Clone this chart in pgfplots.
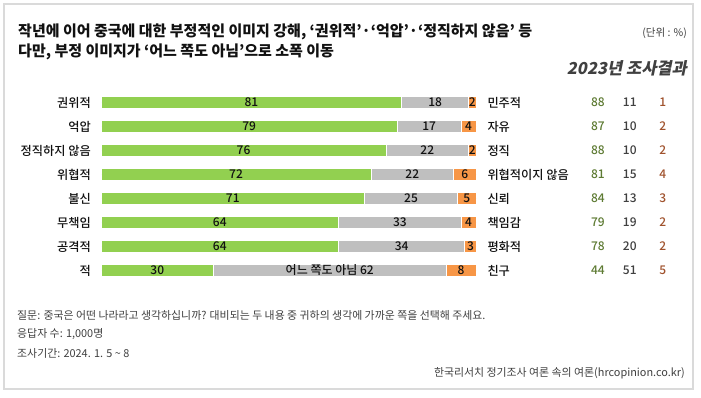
\documentclass[border=0pt]{standalone}
\usepackage{fontspec}
\setmainfont{Noto Sans CJK KR}
\newfontfamily\hdrfont[FakeSlant=0.2]{Noto Sans CJK KR}
\newfontfamily\medfont{Noto Sans CJK KR Medium}
\usepackage{pgfplots}
\pgfplotsset{compat=1.18}
\usepackage{pgfplotstable}

\definecolor{cgreen}{HTML}{92D050}
\definecolor{cgray}{HTML}{BFBFBF}
\definecolor{corange}{HTML}{F79646}
\definecolor{colive}{HTML}{5E7B33}
\definecolor{cdgray}{HTML}{404040}
\definecolor{cbrown}{HTML}{A0522D}
\definecolor{cframe}{HTML}{DADADA}
\definecolor{ctext}{HTML}{111111}

\pgfplotstableread[col sep=comma]{
row,a,b,c,lneg,lpos,p,n,u
0,81,18,2,권위적,민주적,88,11,1
1,79,17,4,억압,자유,87,10,2
2,76,22,2,정직하지 않음,정직,88,10,2
3,72,22,6,위협적,위협적이지 않음,81,15,4
4,71,25,5,불신,신뢰,84,13,3
5,64,33,4,무책임,책임감,79,19,2
6,64,34,3,공격적,평화적,78,20,2
7,30,62,8,적,친구,44,51,5
}\data

\newcommand{\labfont}{\medfont\fontsize{12.2}{14}\selectfont}
\newcommand{\numfont}{\medfont\fontsize{12}{14}\selectfont}
\newcommand{\notefont}{\fontsize{10.9}{13}\selectfont}

\pgfplotsset{
  base/.style={at={(101pt,-282.5pt)}, anchor=south west, scale only axis,
    width=375pt, height=192pt, xmin=0, xmax=100, ymin=-0.5, ymax=7.5,
    y dir=reverse, hide axis, clip=false},
  lab/.style={only marks, mark=*, mark size=0pt, mark options={draw=none,fill=none},
    point meta=explicit symbolic, nodes near coords={\pgfplotspointmeta}},
}

\begin{document}
\begin{tikzpicture}[x=1pt,y=1pt]
\useasboundingbox (0,0) rectangle (701,-397);
\fill[white] (0,0) rectangle (701,-397);
\draw[cframe, line width=2pt] (4,-4) rectangle (693,-389);

\node[anchor=west, inner sep=0pt, text=ctext, font=\bfseries\fontsize{15}{17}\selectfont] at (18,-31.5)
  {작년에 이어 중국에 대한 부정적인 이미지 강해, ‘권위적’·‘억압’·‘정직하지 않음’ 등};
\node[anchor=west, inner sep=0pt, text=ctext, font=\bfseries\fontsize{15}{17}\selectfont] at (18,-51.5)
  {다만, 부정 이미지가 ‘어느 쪽도 아님’으로 소폭 이동};
\node[anchor=east, inner sep=0pt, text=cdgray, font=\fontsize{10.5}{12}\selectfont] at (687,-33)
  {(단위 : \%)};
\node[anchor=east, inner sep=0pt, text=cdgray, font=\hdrfont\bfseries\fontsize{16.5}{18}\selectfont] at (687,-68)
  {2023년 조사결과};

\node[anchor=west, inner sep=0pt, text=cdgray, font=\notefont] at (17,-315)
  {질문: 중국은 어떤 나라라고 생각하십니까? 대비되는 두 내용 중 귀하의 생각에 가까운 쪽을 선택해 주세요.};
\node[anchor=west, inner sep=0pt, text=cdgray, font=\notefont] at (17,-334)
  {응답자 수: 1,000명};
\node[anchor=west, inner sep=0pt, text=cdgray, font=\notefont] at (17,-353)
  {조사기간: 2024. 1. 5 \textasciitilde{} 8};
\node[anchor=east, inner sep=0pt, text=cdgray, font=\notefont] at (685,-373)
  {한국리서치 정기조사 여론 속의 여론(hrcopinion.co.kr)};

\begin{axis}[base, xbar stacked, bar width=12pt]
\addplot[fill=cgreen, draw=white, line width=1pt] table[y=row, x expr={\thisrow{a}*100/(\thisrow{a}+\thisrow{b}+\thisrow{c})}] \data;
\addplot[fill=cgray, draw=white, line width=1pt] table[y=row, x expr={\thisrow{b}*100/(\thisrow{a}+\thisrow{b}+\thisrow{c})}] \data;
\addplot[fill=corange, draw=white, line width=1pt] table[y=row, x expr={\thisrow{c}*100/(\thisrow{a}+\thisrow{b}+\thisrow{c})}] \data;
\end{axis}

\begin{axis}[base]
% left labels
\addplot[lab, every node near coord/.append style={anchor=east, inner sep=0pt, xshift=-10pt, font=\labfont, text=ctext}]
  table[y=row, x expr=0, meta=lneg] \data;
% right labels
\addplot[lab, every node near coord/.append style={anchor=west, inner sep=0pt, xshift=11.3pt, font=\labfont, text=ctext}]
  table[y=row, x expr=100, meta=lpos] \data;
% green values
\addplot[lab, every node near coord/.append style={anchor=center, inner sep=0pt, font=\numfont, text=ctext}]
  table[y=row, x expr={\thisrow{a}*50/(\thisrow{a}+\thisrow{b}+\thisrow{c})}, meta=a] \data;
% gray values
\addplot[lab, skip coords between index={7}{8}, every node near coord/.append style={anchor=center, inner sep=0pt, font=\numfont, text=ctext}]
  table[y=row, x expr={(\thisrow{a}+\thisrow{b}/2)*100/(\thisrow{a}+\thisrow{b}+\thisrow{c})}, meta=b] \data;
\addplot[lab, skip coords between index={0}{7}, nodes near coords={어느 쪽도 아님 \pgfplotspointmeta}, every node near coord/.append style={anchor=center, inner sep=0pt, font=\numfont, text=ctext}]
  table[y=row, x expr={(\thisrow{a}+\thisrow{b}/2)*100/(\thisrow{a}+\thisrow{b}+\thisrow{c})}, meta=b] \data;
% orange values
\addplot[lab, every node near coord/.append style={anchor=center, inner sep=0pt, font=\numfont, text=ctext}]
  table[y=row, x expr={(\thisrow{a}+\thisrow{b}+\thisrow{c}/2)*100/(\thisrow{a}+\thisrow{b}+\thisrow{c})}, meta=c] \data;
% 2023 results
\addplot[lab, every node near coord/.append style={anchor=center, inner sep=0pt, font=\numfont, text=colive}]
  table[y=row, x expr=132.5, meta=p] \data;
\addplot[lab, every node near coord/.append style={anchor=center, inner sep=0pt, font=\numfont, text=cdgray}]
  table[y=row, x expr=141.0, meta=n] \data;
\addplot[lab, every node near coord/.append style={anchor=center, inner sep=0pt, font=\numfont, text=cbrown}]
  table[y=row, x expr=149.8, meta=u] \data;
\end{axis}
\end{tikzpicture}
\end{document}
